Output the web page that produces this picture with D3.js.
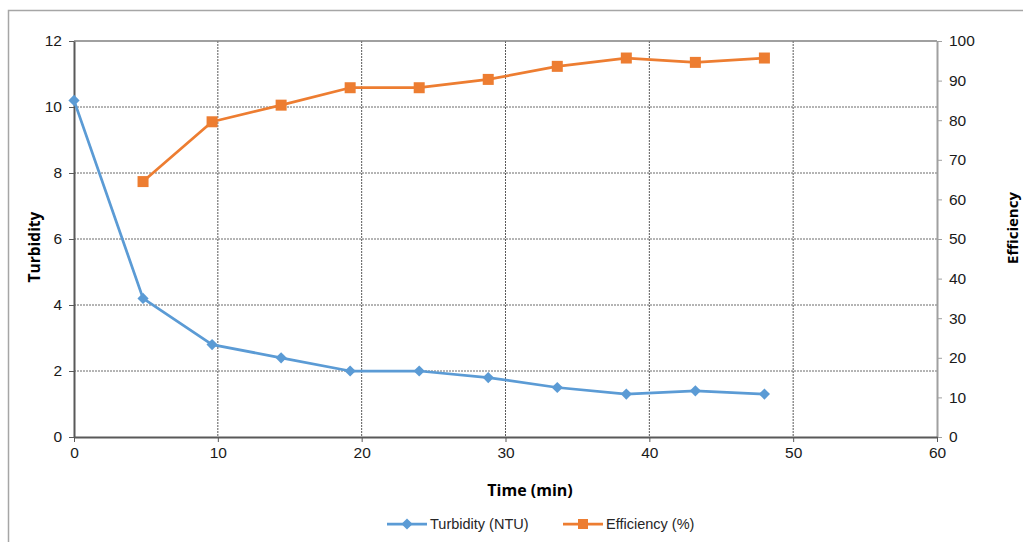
<!DOCTYPE html>
<html><head><meta charset="utf-8">
<script src="https://cdn.jsdelivr.net/npm/d3@7"></script>
<style>html,body{margin:0;padding:0;background:#fff;overflow:hidden}</style>
</head><body>
<svg id="chart" width="1023" height="542"></svg>
<script>
const time = [0, 4.8, 9.6, 14.4, 19.2, 24, 28.8, 33.6, 38.4, 43.2, 48];
const turbidity = [10.2, 4.2, 2.8, 2.4, 2.0, 2.0, 1.8, 1.5, 1.3, 1.4, 1.3];
const effTime = [4.8, 9.6, 14.4, 19.2, 24, 28.8, 33.6, 38.4, 43.2, 48];
const efficiency = [64.5, 79.6, 83.8, 88.2, 88.2, 90.3, 93.6, 95.7, 94.6, 95.7];
const xTicks = [0, 10, 20, 30, 40, 50, 60];
const yLeftTicks = [0, 2, 4, 6, 8, 10, 12];
const yRightTicks = [0, 10, 20, 30, 40, 50, 60, 70, 80, 90, 100];

const svg = d3.select("#chart");
const L = 74, R = 937, T = 41, B = 437;
const x = d3.scaleLinear().domain([0, 60]).range([L, R]);
const yL = d3.scaleLinear().domain([0, 12]).range([B, T]);
const yR = d3.scaleLinear().domain([0, 100]).range([B, T]);
const blue = "#5B9BD5", orange = "#ED7D31";
const font = "'Liberation Sans', Arial, sans-serif";

// chart frame
svg.append("rect").attr("x", 8.5).attr("y", 10.5).attr("width", 1040).attr("height", 560)
  .attr("fill", "none").attr("stroke", "#a6a6a6").attr("stroke-width", 1.5);

// gridlines
const g = svg.append("g");
yLeftTicks.filter(d => d > 0 && d < 12).forEach(d => {
  g.append("line").attr("x1", L).attr("x2", R).attr("y1", yL(d)).attr("y2", yL(d))
    .attr("stroke", "#6a6a6a").attr("stroke-width", 1).attr("stroke-dasharray", "2,1");
});
xTicks.filter(d => d > 0 && d < 60).forEach(d => {
  g.append("line").attr("x1", x(d)).attr("x2", x(d)).attr("y1", T).attr("y2", B)
    .attr("stroke", "#5a5a5a").attr("stroke-width", 1).attr("stroke-dasharray", "2,1");
});
// top border line at 12
g.append("line").attr("x1", L).attr("x2", R).attr("y1", yL(12)).attr("y2", yL(12))
  .attr("stroke", "#808080").attr("stroke-width", 1.5);

// axes
const axL = svg.append("g").attr("transform", `translate(${L},0)`)
  .call(d3.axisLeft(yL).tickValues(yLeftTicks).tickSize(5).tickPadding(7).tickSizeOuter(0));
const axR = svg.append("g").attr("transform", `translate(${R},0)`)
  .call(d3.axisRight(yR).tickValues(yRightTicks).tickSize(5).tickPadding(7).tickSizeOuter(0));
const axB = svg.append("g").attr("transform", `translate(0,${B})`)
  .call(d3.axisBottom(x).tickValues(xTicks).tickSize(5).tickPadding(5).tickSizeOuter(0));
[axL, axB].forEach(a => {
  a.select(".domain").attr("stroke", "#595959").attr("stroke-width", 2);
  a.selectAll(".tick line").attr("stroke", "#595959");
});
axR.select(".domain").attr("stroke", "#a0a0a0").attr("stroke-width", 2);
axR.selectAll(".tick line").attr("stroke", "#a0a0a0");
[axL, axR, axB].forEach(a => {
  a.selectAll("text").attr("font-family", font).attr("font-size", 15.5).attr("fill", "#1a1a1a");
});

// lines
const lineT = d3.line().x((d, i) => x(time[i])).y(d => yL(d));
const lineE = d3.line().x((d, i) => x(effTime[i])).y(d => yR(d));
svg.append("path").datum(turbidity).attr("d", lineT).attr("fill", "none")
  .attr("stroke", blue).attr("stroke-width", 2.75).attr("stroke-linejoin", "round");
svg.append("path").datum(efficiency).attr("d", lineE).attr("fill", "none")
  .attr("stroke", orange).attr("stroke-width", 2.75).attr("stroke-linejoin", "round");

const diamond = d3.symbol().type(d3.symbolDiamond2).size(80);
svg.append("g").selectAll("path").data(turbidity).join("path")
  .attr("d", diamond).attr("transform", (d, i) => `translate(${x(time[i])},${yL(d)})`)
  .attr("fill", blue);
svg.append("g").selectAll("rect").data(efficiency).join("rect")
  .attr("x", (d, i) => x(effTime[i]) - 5.5).attr("y", d => yR(d) - 5.5)
  .attr("width", 11).attr("height", 11).attr("fill", orange);

// axis titles
const tFont = "'Open Sans', 'DejaVu Sans', sans-serif";
svg.append("text").attr("transform", `translate(40,247) rotate(-90)`).attr("text-anchor", "middle")
  .attr("font-family", tFont).attr("font-weight", 700).attr("font-size", 15.5).attr("fill", "#000")
  .text("Turbidity");
svg.append("text").attr("transform", `translate(1018,228) rotate(-90)`).attr("text-anchor", "middle")
  .attr("font-family", tFont).attr("font-weight", 700).attr("font-size", 15).attr("fill", "#000")
  .text("Efficiency");
svg.append("text").attr("x", 530).attr("y", 496).attr("text-anchor", "middle")
  .attr("font-family", tFont).attr("font-weight", 700).attr("font-size", 16).attr("fill", "#000")
  .text("Time (min)");

// legend
const leg = svg.append("g");
const ly = 524;
leg.append("line").attr("x1", 387).attr("x2", 427).attr("y1", ly).attr("y2", ly)
  .attr("stroke", blue).attr("stroke-width", 2.75);
leg.append("path").attr("d", diamond).attr("transform", `translate(407,${ly})`).attr("fill", blue);
leg.append("text").attr("x", 430).attr("y", ly + 5).attr("font-family", font).attr("font-size", 14.5)
  .attr("fill", "#262626").text("Turbidity (NTU)");
leg.append("line").attr("x1", 563).attr("x2", 603).attr("y1", ly).attr("y2", ly)
  .attr("stroke", orange).attr("stroke-width", 2.75);
leg.append("rect").attr("x", 578).attr("y", ly - 5).attr("width", 10).attr("height", 10).attr("fill", orange);
leg.append("text").attr("x", 606).attr("y", ly + 5).attr("font-family", font).attr("font-size", 14.5)
  .attr("fill", "#262626").text("Efficiency (%)");
</script>
</body></html>
